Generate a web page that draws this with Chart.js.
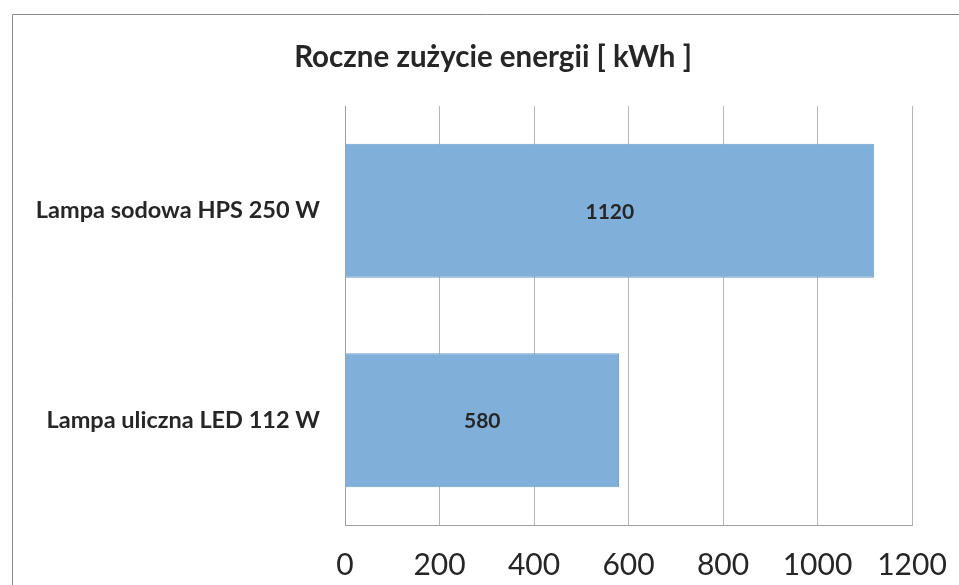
<!DOCTYPE html>
<html>
<head>
<meta charset="utf-8">
<script src="https://cdn.jsdelivr.net/npm/chart.js@4/dist/chart.umd.min.js"></script>
<style>
  html, body { margin: 0; padding: 0; background: #fff; }
  #wrap { width: 959px; height: 585px; position: relative; }
</style>
</head>
<body>
<div id="wrap"><canvas id="c" width="959" height="585"></canvas></div>
<script>
const chartTitle = 'Roczne zużycie energii [ kWh ]';
const categories = ['Lampa sodowa HPS 250 W', 'Lampa uliczna LED 112 W'];
const energyKWh = [1120, 580];
const axisMin = 0;
const axisMax = 1200;
const axisStep = 200;

const FONT = 'Lato, "Open Sans", sans-serif';
const TEXT = '#262626';

const frame = {
  id: 'frame',
  beforeDraw(chart) {
    const ctx = chart.ctx;
    ctx.save();
    ctx.fillStyle = '#fff';
    ctx.fillRect(0, 0, chart.width, chart.height);
    ctx.strokeStyle = '#8a8a8a';
    ctx.lineWidth = 1;
    ctx.beginPath();
    ctx.moveTo(12.5, chart.height + 5);
    ctx.lineTo(12.5, 14.5);
    ctx.lineTo(chart.width + 5, 14.5);
    ctx.stroke();
    ctx.restore();
  },
  afterDraw(chart) {
    const ctx = chart.ctx;
    ctx.save();
    ctx.fillStyle = TEXT;
    ctx.font = 'bold 29.5px ' + FONT;
    ctx.textAlign = 'center';
    ctx.textBaseline = 'alphabetic';
    ctx.fillText(chartTitle, 493, 67);
    ctx.restore();
  }
};

const valueLabels = {
  id: 'valueLabels',
  afterDatasetsDraw(chart) {
    const ctx = chart.ctx;
    const meta = chart.getDatasetMeta(0);
    ctx.save();
    ctx.fillStyle = TEXT;
    ctx.font = 'bold 21px ' + FONT;
    ctx.textAlign = 'center';
    ctx.textBaseline = 'middle';
    meta.data.forEach((el, i) => {
      const v = chart.data.datasets[0].data[i];
      ctx.fillText(String(v), (el.x + el.base) / 2, el.y + 1);
    });
    ctx.restore();
  }
};

new Chart(document.getElementById('c'), {
  type: 'bar',
  data: {
    labels: categories,
    datasets: [{
      data: energyKWh,
      backgroundColor: '#80b0d9',
      borderColor: '#6f9fcb',
      borderWidth: 1,
      barPercentage: 0.64,
      categoryPercentage: 1.0
    }]
  },
  options: {
    indexAxis: 'y',
    responsive: false,
    animation: false,
    layout: { padding: { left: 0, right: 47, top: 106, bottom: 0 } },
    plugins: {
      legend: { display: false },
      tooltip: { enabled: false },
      title: { display: false }
    },
    scales: {
      x: {
        min: axisMin,
        max: axisMax,
        ticks: {
          stepSize: axisStep,
          color: TEXT,
          font: { family: FONT, size: 30 },
          padding: 22,
          maxRotation: 0,
          callback: (v) => String(v)
        },
        grid: { color: '#b5b5b5', drawTicks: false, lineWidth: 1 },
        border: { display: true, color: '#a0a0a0' },
        afterFit(s) { s.height = 60; s.paddingRight = 0; s.paddingLeft = 0; }
      },
      y: {
        ticks: {
          color: TEXT,
          font: { family: FONT, size: 23.5, weight: 'bold' },
          padding: 25
        },
        grid: { display: false, drawTicks: false },
        border: { display: true, color: '#a0a0a0' },
        afterFit(s) { s.width = 345; s.paddingTop = 0; s.paddingBottom = 0; }
      }
    }
  },
  plugins: [frame, valueLabels]
});
</script>
</body>
</html>
